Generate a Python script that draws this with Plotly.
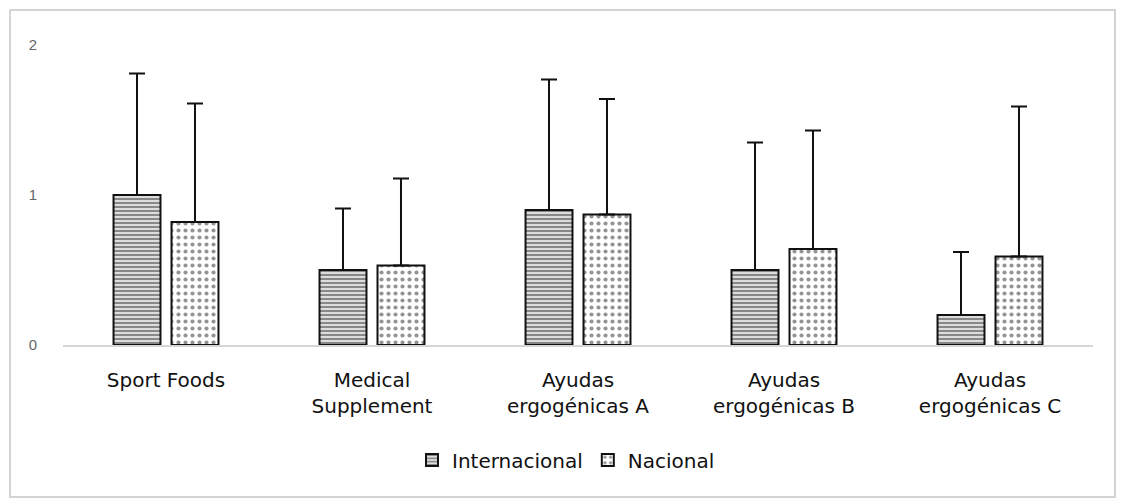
import plotly.graph_objects as go

# Categories and series values (means with upper standard deviation)
categories = [
    "Sport Foods",
    "Medical<br>Supplement",
    "Ayudas<br>ergogénicas A",
    "Ayudas<br>ergogénicas B",
    "Ayudas<br>ergogénicas C",
]
internacional = [1.00, 0.50, 0.90, 0.50, 0.20]
internacional_sd = [0.81, 0.41, 0.87, 0.85, 0.42]
nacional = [0.82, 0.53, 0.87, 0.64, 0.59]
nacional_sd = [0.79, 0.58, 0.77, 0.79, 1.00]
y_ticks = [0, 1, 2]

W, H = 1126, 501
ML, MR, MT, MB = 63, 33, 45, 156
plot_w = W - ML - MR
plot_h = H - MT - MB

label_font = dict(family="DejaVu Sans", size=20, color="#111111")

fig = go.Figure()

fig.add_trace(go.Bar(
    name="Internacional",
    x=categories,
    y=internacional,
    marker=dict(
        color="white",
        line=dict(color="#111111", width=2),
        pattern=dict(shape="-", fgcolor="#111111", bgcolor="white",
                     size=4, solidity=0.65),
    ),
    error_y=dict(type="data", array=internacional_sd,
                 arrayminus=[0] * len(internacional_sd), symmetric=False,
                 color="#111111", thickness=2, width=8),
))

fig.add_trace(go.Bar(
    name="Nacional",
    x=categories,
    y=nacional,
    marker=dict(
        color="white",
        line=dict(color="#111111", width=2),
        pattern=dict(shape=".", fgcolor="#2a2a2a", bgcolor="white",
                     size=7, solidity=0.28),
    ),
    error_y=dict(type="data", array=nacional_sd,
                 arrayminus=[0] * len(nacional_sd), symmetric=False,
                 color="#111111", thickness=2, width=8),
))

# Outer light-grey frame around the whole chart
def px_to_paper_x(px):
    return (px - ML) / plot_w

def px_to_paper_y(py):
    return (H - MB - py) / plot_h

fig.add_shape(
    type="rect", xref="paper", yref="paper",
    x0=px_to_paper_x(10), x1=px_to_paper_x(1115),
    y0=px_to_paper_y(497), y1=px_to_paper_y(10),
    line=dict(color="#d4d4d4", width=2), fillcolor="rgba(0,0,0,0)",
    layer="below",
)

fig.update_layout(
    width=W, height=H,
    margin=dict(l=ML, r=MR, t=MT, b=MB, pad=0),
    paper_bgcolor="white",
    plot_bgcolor="white",
    barmode="group",
    bargap=0.437,
    bargroupgap=0.19,
    showlegend=True,
    legend=dict(
        orientation="h",
        x=px_to_paper_x(566), y=px_to_paper_y(460),
        xanchor="center", yanchor="middle",
        font=label_font,
        itemwidth=30,
        tracegroupgap=0,
    ),
    xaxis=dict(
        showgrid=False,
        showline=True, linecolor="#d6d6d6", linewidth=2,
        ticks="outside", ticklen=0,
        tickfont=label_font,
        ticklabelstandoff=16,
        zeroline=False,
    ),
    yaxis=dict(
        range=[0, 2],
        tickvals=y_ticks,
        ticktext=[str(v) for v in y_ticks],
        showgrid=False, showline=False, zeroline=False,
        ticks="outside", ticklen=0,
        tickfont=dict(family="Liberation Sans", size=15, color="#666666"),
        ticklabelstandoff=22,
    ),
)

fig.write_html("out.html")
